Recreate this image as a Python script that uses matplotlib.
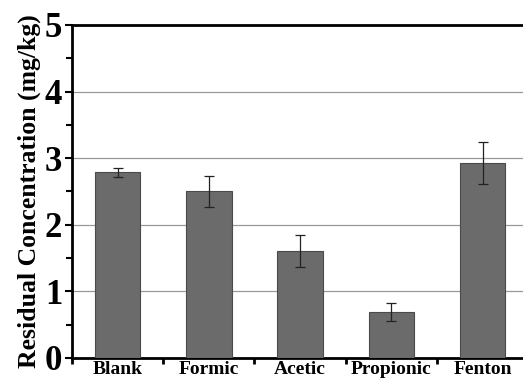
import matplotlib
matplotlib.use("Agg")
import matplotlib.pyplot as plt
from matplotlib.ticker import MultipleLocator, FixedLocator

categories = ["Blank", "Formic", "Acetic", "Propionic", "Fenton"]
values = [2.79, 2.50, 1.61, 0.69, 2.93]
errors = [0.07, 0.23, 0.24, 0.14, 0.31]
y_ticks = [0, 1, 2, 3, 4, 5]

plt.rcParams['font.family'] = ['Liberation Serif', 'DejaVu Serif']

fig = plt.figure(figsize=(5.23, 3.82), dpi=100)
ax = fig.add_axes([72/523, 1-358/382, 1-72/523+0.01, (358-25)/382])

x = list(range(len(categories)))
ax.bar(x, values, width=0.5, color="#6b6b6b", edgecolor="#4a4a4a", linewidth=0.8, zorder=3)
ax.errorbar(x, values, yerr=errors, fmt="none", ecolor="#222222", elinewidth=0.9,
            capsize=3.5, capthick=0.9, zorder=4)

ax.set_xlim(-0.5, 4.5)
ax.set_ylim(0, 5)
ax.set_yticks(y_ticks)
ax.yaxis.set_minor_locator(MultipleLocator(0.5))
ax.set_yticklabels([str(t) for t in y_ticks], fontsize=25, fontweight="bold")
ax.set_xticks(x)
ax.set_xticklabels(categories, fontsize=14, fontweight="bold")
ax.xaxis.set_minor_locator(FixedLocator([i - 0.5 for i in range(len(categories))]))
ax.tick_params(axis="x", which="major", length=0, pad=2)
ax.tick_params(axis="x", which="minor", length=4, width=2, direction="out")
ax.tick_params(axis="y", which="both", direction="out", width=1.5, pad=2)
ax.tick_params(axis="y", which="major", length=5)
ax.tick_params(axis="y", which="minor", length=4)

ax.grid(axis="y", color="#999999", linewidth=0.9, zorder=0)
ax.set_axisbelow(True)

for s in ["left", "bottom", "top"]:
    ax.spines[s].set_linewidth(2)
ax.spines["right"].set_visible(False)

ax.set_ylabel("Residual Concentration (mg/kg)", fontsize=18.5, fontweight="bold", labelpad=3)

fig.savefig("out.png", dpi=100)
